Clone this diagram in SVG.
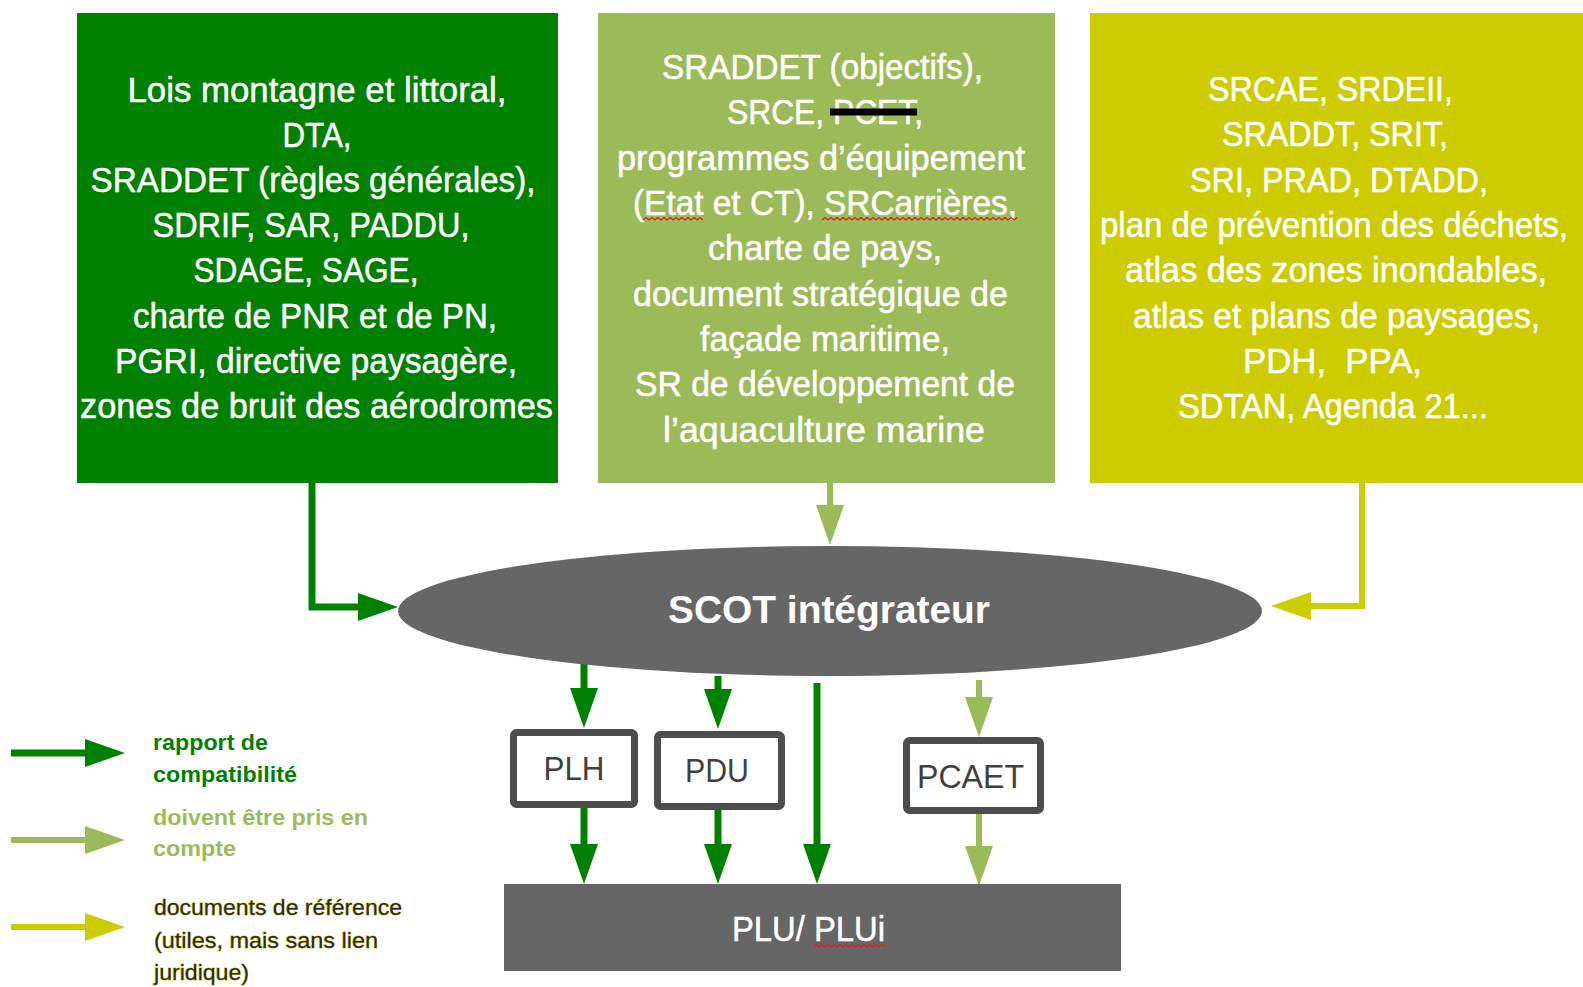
<svg xmlns="http://www.w3.org/2000/svg" width="1583" height="987" viewBox="0 0 1583 987">
<style>
.bt{font-family:"Liberation Sans Narrow","Liberation Sans",Arial,sans-serif;font-size:35px;fill:#ffffff;stroke:#ffffff;stroke-width:0.5;text-anchor:middle}
.lbl{font-family:"Liberation Sans Narrow","Liberation Sans",Arial,sans-serif;font-size:34px;fill:#404040;text-anchor:middle}
.scot{font-family:"Liberation Sans Narrow","Liberation Sans",Arial,sans-serif;font-size:38px;font-weight:bold;fill:#ffffff;text-anchor:middle}
.leg{font-family:"Liberation Sans",Arial,sans-serif;font-size:22px;font-weight:bold}
.leg3{font-family:"Liberation Sans",Arial,sans-serif;font-size:22px;fill:#2a2a2a;stroke:#cccc00;stroke-width:1;paint-order:stroke}
.inner{fill:#ffffff;stroke:#4d4d4d;stroke-width:7}
.cd{fill:none;stroke:#008000;stroke-width:7;stroke-linejoin:miter;marker-end:url(#hd)}
.cl{fill:none;stroke:#9bbb59;stroke-width:6;marker-end:url(#hl)}
.cy{fill:none;stroke:#cccc00;stroke-width:6;stroke-linejoin:miter;marker-end:url(#hy)}
.sq{fill:none;stroke:#e02020;stroke-width:1.3}
</style>
<defs>
<marker id="hd" viewBox="0 0 40 28" refX="1" refY="14" markerWidth="40" markerHeight="28" markerUnits="userSpaceOnUse" orient="auto"><path d="M0,0 L40,14 L0,28 z" fill="#008000"/></marker>
<marker id="hl" viewBox="0 0 40 28" refX="1" refY="14" markerWidth="40" markerHeight="28" markerUnits="userSpaceOnUse" orient="auto"><path d="M0,0 L40,14 L0,28 z" fill="#9bbb59"/></marker>
<marker id="hy" viewBox="0 0 40 28" refX="1" refY="14" markerWidth="40" markerHeight="28" markerUnits="userSpaceOnUse" orient="auto"><path d="M0,0 L40,14 L0,28 z" fill="#cccc00"/></marker>
</defs>
<rect width="1583" height="987" fill="#ffffff"/>

<g id="connectors">
<path class="cd" d="M312,483 V607 H359"/>
<path class="cl" d="M830,483 V506"/>
<path class="cy" d="M1362,483 V606 H1310"/>
<path class="cd" d="M584,660 V689"/>
<path class="cd" d="M718,676 V690"/>
<path class="cd" d="M817,683 V845"/>
<path class="cl" d="M979,680 V698"/>
<path class="cd" d="M584,806 V845"/>
<path class="cd" d="M718,808 V845"/>
<path class="cl" d="M979,812 V847"/>
</g>

<g id="box-compatibilite">
<rect x="77" y="13" width="481" height="470" fill="#008000"/>
<text class="bt" x="317" y="101.5" textLength="379" lengthAdjust="spacingAndGlyphs">Lois montagne et littoral,</text>
<text class="bt" x="317" y="146.7" textLength="69" lengthAdjust="spacingAndGlyphs">DTA,</text>
<text class="bt" x="313" y="191.9" textLength="445" lengthAdjust="spacingAndGlyphs">SRADDET (règles générales),</text>
<text class="bt" x="311" y="237.1" textLength="317" lengthAdjust="spacingAndGlyphs">SDRIF, SAR, PADDU,</text>
<text class="bt" x="306" y="282.3" textLength="225" lengthAdjust="spacingAndGlyphs">SDAGE, SAGE,</text>
<text class="bt" x="315" y="327.5" textLength="364" lengthAdjust="spacingAndGlyphs">charte de PNR et de PN,</text>
<text class="bt" x="316" y="372.7" textLength="402" lengthAdjust="spacingAndGlyphs">PGRI, directive paysagère,</text>
<text class="bt" x="316.5" y="418" textLength="473" lengthAdjust="spacingAndGlyphs">zones de bruit des aérodromes</text>
</g>

<g id="box-prise-en-compte">
<rect x="598" y="13" width="457" height="470" fill="#9bbb59"/>
<text class="bt" x="822.5" y="78.5" textLength="321" lengthAdjust="spacingAndGlyphs">SRADDET (objectifs),</text>
<text class="bt" x="825" y="123.5" textLength="196" lengthAdjust="spacingAndGlyphs">SRCE, PCET,</text>
<line x1="830" y1="112" x2="917" y2="112" stroke="#000000" stroke-width="7"/>
<text class="bt" x="821" y="169.5" textLength="408" lengthAdjust="spacingAndGlyphs">programmes d’équipement</text>
<text class="bt" x="825" y="214.5" textLength="384" lengthAdjust="spacingAndGlyphs">(Etat et CT), SRCarrières,</text>
<path class="sq" d="M643,220 l3,-2.5 l3,2.5 l3,-2.5 l3,2.5 l3,-2.5 l3,2.5 l3,-2.5 l3,2.5 l3,-2.5 l3,2.5 l3,-2.5 l3,2.5 l3,-2.5 l3,2.5 l3,-2.5 l3,2.5 l3,-2.5 l3,2.5 l3,-2.5 l3,2.5"/>
<path class="sq" d="M822,220 l3,-2.5 l3,2.5 l3,-2.5 l3,2.5 l3,-2.5 l3,2.5 l3,-2.5 l3,2.5 l3,-2.5 l3,2.5 l3,-2.5 l3,2.5 l3,-2.5 l3,2.5 l3,-2.5 l3,2.5 l3,-2.5 l3,2.5 l3,-2.5 l3,2.5 l3,-2.5 l3,2.5 l3,-2.5 l3,2.5 l3,-2.5 l3,2.5 l3,-2.5 l3,2.5 l3,-2.5 l3,2.5 l3,-2.5 l3,2.5 l3,-2.5 l3,2.5 l3,-2.5 l3,2.5 l3,-2.5 l3,2.5 l3,-2.5 l3,2.5 l3,-2.5 l3,2.5 l3,-2.5 l3,2.5 l3,-2.5 l3,2.5 l3,-2.5 l3,2.5 l3,-2.5 l3,2.5 l3,-2.5 l3,2.5 l3,-2.5 l3,2.5 l3,-2.5 l3,2.5 l3,-2.5 l3,2.5 l3,-2.5 l3,2.5 l3,-2.5 l3,2.5 l3,-2.5 l3,2.5 l3,-2.5"/>
<text class="bt" x="825" y="259.5" textLength="234" lengthAdjust="spacingAndGlyphs">charte de pays,</text>
<text class="bt" x="820.5" y="305.5" textLength="375" lengthAdjust="spacingAndGlyphs">document stratégique de</text>
<text class="bt" x="825" y="350.5" textLength="250" lengthAdjust="spacingAndGlyphs">façade maritime,</text>
<text class="bt" x="825" y="395.5" textLength="380" lengthAdjust="spacingAndGlyphs">SR de développement de</text>
<text class="bt" x="824" y="441.5" textLength="322" lengthAdjust="spacingAndGlyphs">l’aquaculture marine</text>
</g>

<g id="box-reference">
<rect x="1090" y="13" width="493" height="470" fill="#cccc00"/>
<text class="bt" x="1330.5" y="101" textLength="245" lengthAdjust="spacingAndGlyphs">SRCAE, SRDEII,</text>
<text class="bt" x="1335" y="146.3" textLength="226" lengthAdjust="spacingAndGlyphs">SRADDT, SRIT,</text>
<text class="bt" x="1339" y="191.6" textLength="298" lengthAdjust="spacingAndGlyphs">SRI, PRAD, DTADD,</text>
<text class="bt" x="1334" y="236.9" textLength="468" lengthAdjust="spacingAndGlyphs">plan de prévention des déchets,</text>
<text class="bt" x="1336" y="282.2" textLength="422" lengthAdjust="spacingAndGlyphs">atlas des zones inondables,</text>
<text class="bt" x="1336.5" y="327.5" textLength="407" lengthAdjust="spacingAndGlyphs">atlas et plans de paysages,</text>
<text class="bt" x="1332.5" y="372.8" textLength="179" lengthAdjust="spacingAndGlyphs" xml:space="preserve">PDH,  PPA,</text>
<text class="bt" x="1333" y="418" textLength="310" lengthAdjust="spacingAndGlyphs">SDTAN, Agenda 21...</text>
</g>

<g id="scot">
<ellipse cx="830" cy="611" rx="432" ry="65" fill="#666666"/>
<text class="scot" x="829" y="623" textLength="322" lengthAdjust="spacingAndGlyphs">SCOT intégrateur</text>
</g>

<g id="plh">
<rect class="inner" x="513.5" y="732.5" width="121" height="72" rx="3"/>
<text class="lbl" x="574" y="780" textLength="61" lengthAdjust="spacingAndGlyphs">PLH</text>
</g>

<g id="pdu">
<rect class="inner" x="657.5" y="734.5" width="124" height="72" rx="3"/>
<text class="lbl" x="717" y="782" textLength="64" lengthAdjust="spacingAndGlyphs">PDU</text>
</g>

<g id="pcaet">
<rect class="inner" x="906.5" y="740.5" width="134" height="70" rx="3"/>
<text class="lbl" x="970.5" y="788" textLength="107" lengthAdjust="spacingAndGlyphs">PCAET</text>
</g>

<g id="plu">
<rect x="504" y="884" width="617" height="87" fill="#666666"/>
<text class="bt" x="808.5" y="941" font-size="34" textLength="153" lengthAdjust="spacingAndGlyphs">PLU/ PLUi</text>
<path class="sq" d="M813,947 l3,-2.5 l3,2.5 l3,-2.5 l3,2.5 l3,-2.5 l3,2.5 l3,-2.5 l3,2.5 l3,-2.5 l3,2.5 l3,-2.5 l3,2.5 l3,-2.5 l3,2.5 l3,-2.5 l3,2.5 l3,-2.5 l3,2.5 l3,-2.5 l3,2.5 l3,-2.5 l3,2.5 l3,-2.5 l3,2.5"/>
</g>

<g id="legend">
<path class="cd" d="M11,753 H86"/>
<path class="cl" d="M11,840 H86" stroke-width="7"/>
<path class="cy" d="M11,927 H86" stroke-width="7"/>
<text class="leg" x="153" y="750" fill="#008000" textLength="115" lengthAdjust="spacingAndGlyphs">rapport de</text>
<text class="leg" x="153" y="782" fill="#008000" textLength="144" lengthAdjust="spacingAndGlyphs">compatibilité</text>
<text class="leg" x="153" y="825" fill="#9bbb59" textLength="215" lengthAdjust="spacingAndGlyphs">doivent être pris en</text>
<text class="leg" x="153" y="856" fill="#9bbb59" textLength="83" lengthAdjust="spacingAndGlyphs">compte</text>
<text class="leg3" x="154" y="915" textLength="248" lengthAdjust="spacingAndGlyphs">documents de référence</text>
<text class="leg3" x="154" y="948" textLength="224" lengthAdjust="spacingAndGlyphs">(utiles, mais sans lien</text>
<text class="leg3" x="154" y="980" textLength="95" lengthAdjust="spacingAndGlyphs">juridique)</text>
</g>
</svg>
